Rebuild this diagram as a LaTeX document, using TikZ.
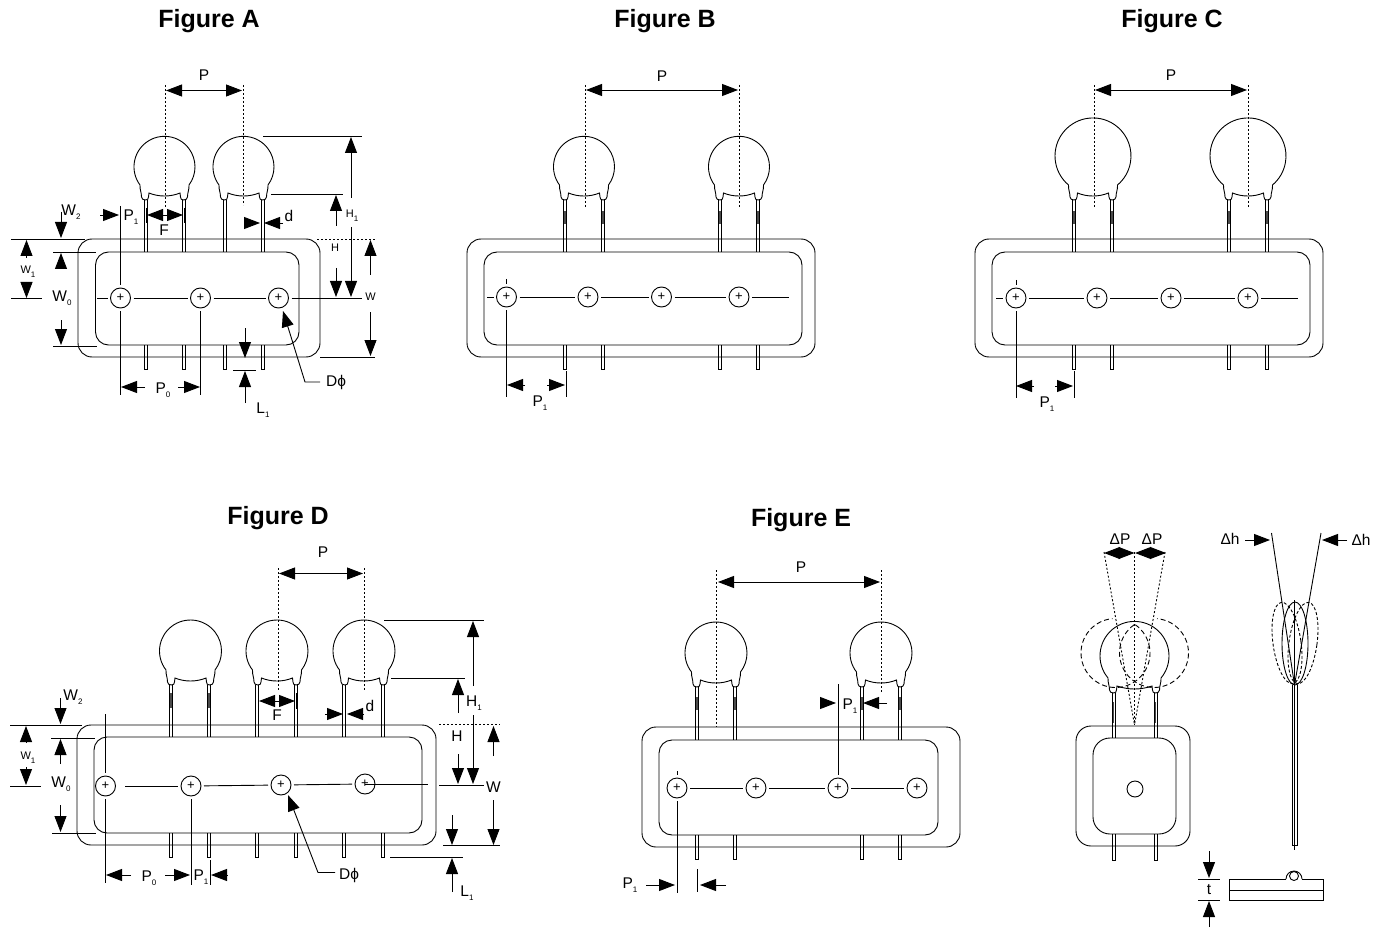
\documentclass[tikz,border=0pt]{standalone}
\usepackage{fontspec}
\setmainfont{Liberation Sans}
\usetikzlibrary{arrows.meta, positioning, calc}
\tikzstyle{part} = [line width=0.9pt, black]
\tikzstyle{arrow} = [line width=0.9pt, -{Triangle[length=16pt,width=12pt]}]
\tikzstyle{line} = [line width=0.9pt]
\tikzstyle{guide} = [line width=0.9pt, dash pattern=on 2pt off 2pt]
\tikzstyle{ghost} = [line width=0.9pt, dash pattern=on 5pt off 3pt]
\tikzstyle{leadtick} = [line width=1.2pt, black!70]
\tikzstyle{hole} = [circle, draw, line width=0.9pt, minimum size=20pt, inner sep=0pt, outer sep=3pt, font=\fontsize{13}{13}\selectfont]
\tikzstyle{title} = [font=\fontsize{25}{25}\selectfont\bfseries]
\tikzstyle{dimtext} = [font=\fontsize{15.5}{15.5}\selectfont, inner sep=0pt]
\tikzstyle{smalltext} = [font=\fontsize{11}{11}\selectfont, inner sep=0pt]
\newcommand{\sub}[1]{\raisebox{-4pt}{\fontsize{8}{8}\selectfont #1}}

% x, y of the lead feet, radius, half spacing of the leads
\newcommand{\disc}[4]{%
  \pgfmathsetmacro{\nx}{#4+5.5}
  \pgfmathsetmacro{\ox}{#4+4}
  \pgfmathsetmacro{\ix}{#4-3}
  \pgfmathsetmacro{\nk}{#4-3.5}
  \pgfmathsetmacro{\tang}{acos(\nx/#3)}
  \begin{scope}[shift={(#1,#2)}]
    \draw [part] (-\nx,-15) arc[start angle=180-\tang, end angle=360+\tang, radius=#3]
      .. controls (\nx+0.3,-10) and (\ox,-8) .. (\ox,-3)
      .. controls (\ox,-1) and (#4+2,0) .. (#4,0)
      .. controls (#4-2,0) and (\ix,-1) .. (\ix,-3)
      -- (\nk,-7)
      .. controls (6,-3) and (-6,-3) .. (-\nk,-7)
      -- (-\ix,-3)
      .. controls (-\ix,-1) and (-#4+2,0) .. (-#4,0)
      .. controls (-#4-2,0) and (-\ox,-1) .. (-\ox,-3)
      .. controls (-\ox,-8) and (-\nx-0.3,-10) .. (-\nx,-15);
  \end{scope}}
% x of the lead, top and bottom of the upper part
\newcommand{\lead}[3]{%
  \draw [part] (#1-1.5,#2) -- (#1-1.5,#3) (#1+1.5,#2) -- (#1+1.5,#3);}
% x of the lead, top and bottom of the stub
\newcommand{\stub}[3]{%
  \draw [part] (#1-1.5,#2) -- (#1-1.5,#3) -- (#1+1.5,#3) -- (#1+1.5,#2);}

\begin{document}
\begin{tikzpicture}[x=1pt,y=-1pt]
\useasboundingbox (0,0) rectangle (1382,928);

% Titoli
\node (title_a) [title] at (209,21.5) {Figure A};
\node (title_b) [title] at (665,21.5) {Figure B};
\node (title_c) [title] at (1172,21.5) {Figure C};
\node (title_d) [title] at (278,518.5) {Figure D};
\node (title_e) [title] at (801,520.5) {Figure E};

% Figure A
\draw [part, rounded corners=14pt] (78,239) rectangle (320,357);
\draw [part, rounded corners=13pt] (95.5,252) rectangle (299,345);
\disc{164.5}{200}{30.5}{19}
\disc{243.5}{200}{30.5}{19}
\foreach \lx in {145.5,183.5,224.5,262.5} {
  \lead{\lx}{200}{252}
  \stub{\lx}{345}{369}
}
\node (hole_a1) [hole] at (120.5,298) {+};
\node (hole_a2) [hole] at (200.5,298) {+};
\node (hole_a3) [hole] at (278.5,298) {+};
\coordinate (end_a0) at (97,298);
\coordinate (end_a4) at (362,298);
\coordinate (top_a1) at (120.5,206);
\coordinate (low_a1) at (120.5,395);
\coordinate (low_a2) at (200.5,395);
\draw [line] (end_a0) -- (hole_a1);
\draw [line] (hole_a1) -- (hole_a2);
\draw [line] (hole_a2) -- (hole_a3);
\draw [line] (hole_a3) -- (end_a4);
\draw [line] (top_a1) -- (hole_a1);
\draw [line] (hole_a1) -- (low_a1);
\draw [line] (hole_a2) -- (low_a2);
\draw [guide] (165,85) -- (165,207);
\draw [guide] (243,85) -- (243,205);
\draw [arrow] (190,90.5) -- (166,90.5);
\draw [arrow] (190,90.5) -- (242,90.5);
\node (p_a) [dimtext] at (204,75) {P};
\draw [arrow] (100,215) -- (119,215);
\node (p1_a) [dimtext] at (131,217) {P\sub{1}};
\draw [line] (146,208) -- (146,223);
\draw [line] (184,208) -- (184,223);
\draw [arrow] (165,215) -- (147,215);
\draw [arrow] (165,215) -- (183,215);
\node (f_a) [dimtext] at (164,230) {F};
\draw [arrow] (244,223) -- (260,223);
\draw [arrow] (283,223) -- (264,223);
\node (d_a) [dimtext] at (289,216) {d};
\node (w2_a) [dimtext] at (71,212) {W\sub{2}};
\draw [arrow] (61,212) -- (61,238);
\draw [line] (11,239) -- (85,239);
\draw [line] (53,252) -- (96,252);
\draw [arrow] (61,268) -- (61,253);
\node (w0_a) [dimtext] at (62,298) {W\sub{0}};
\draw [arrow] (61,320) -- (61,345);
\draw [line] (53,346) -- (97,346);
\draw [arrow] (26.5,258) -- (26.5,240);
\node (w1_a) [smalltext] at (28,272) {W\sub{1}};
\draw [arrow] (26.5,282) -- (26.5,298);
\draw [line] (11,298.5) -- (42,298.5);
\draw [line] (263,136) -- (362,136);
\draw [arrow] (351,198) -- (351,137);
\node (h1_a) [smalltext] at (352,216) {H\sub{1}};
\draw [arrow] (351,227) -- (351,297);
\draw [line] (271,194) -- (343,194);
\draw [arrow] (336,226) -- (336,195);
\draw [guide] (317,239) -- (376,239);
\node (h_a) [smalltext] at (335,248) {H};
\draw [arrow] (336,268) -- (336,297);
\draw [arrow] (370.5,275) -- (370.5,240);
\node (w_a) [smalltext] at (370.5,297) {W};
\draw [arrow] (370.5,312) -- (370.5,356);
\draw [line] (320,357) -- (375,357);
\draw [arrow] (245,328) -- (245,358);
\draw [line] (233,370.5) -- (256,370.5);
\draw [arrow] (245,403) -- (245,371);
\node (l1_a) [dimtext] at (263,410) {L\sub{1}};
\draw [arrow] (145,387) -- (121,387);
\draw [arrow] (178,387) -- (200,387);
\node (p0_a) [dimtext] at (163,390) {P\sub{0}};
\node (dphi_a) [dimtext] at (336,382) {Dϕ};
\draw [arrow] (320,382) -- (305,382) -- (283,311);

% Figure B
\draw [part, rounded corners=14pt] (467,239) rectangle (815,357);
\draw [part, rounded corners=13pt] (484,252) rectangle (802,345);
\disc{584}{200}{30.5}{19}
\disc{739}{200}{30.5}{19}
\foreach \lx in {565,603,720,758} {
  \lead{\lx}{200}{252}
  \stub{\lx}{345}{369}
  \draw [leadtick] (\lx,211) -- (\lx,224);
}
\node (hole_b1) [hole] at (506.5,297) {+};
\node (hole_b2) [hole] at (588,297) {+};
\node (hole_b3) [hole] at (661.5,297) {+};
\node (hole_b4) [hole] at (739,297) {+};
\coordinate (end_b0) at (487,297);
\coordinate (end_b5) at (789,297);
\coordinate (top_b1) at (506.5,279);
\coordinate (low_b1) at (506.5,397);
\draw [line] (end_b0) -- (hole_b1);
\draw [line] (hole_b1) -- (hole_b2);
\draw [line] (hole_b2) -- (hole_b3);
\draw [line] (hole_b3) -- (hole_b4);
\draw [line] (hole_b4) -- (end_b5);
\draw [line] (top_b1) -- (hole_b1);
\draw [line] (hole_b1) -- (low_b1);
\draw [line] (566,371) -- (566,397);
\draw [guide] (585,85) -- (585,207);
\draw [guide] (739,85) -- (739,207);
\draw [arrow] (662,90) -- (586,90);
\draw [arrow] (662,90) -- (738,90);
\node (p_b) [dimtext] at (662,76) {P};
\draw [arrow] (525,385) -- (507,385);
\draw [arrow] (547,385) -- (565,385);
\node (p1_b) [dimtext] at (540,403) {P\sub{1}};

% Figure C
\draw [part, rounded corners=14pt] (975,239) rectangle (1323,357);
\draw [part, rounded corners=13pt] (992,252) rectangle (1310,345);
\disc{1093}{200}{38}{19}
\disc{1248}{200}{38}{19}
\foreach \lx in {1074,1112,1229,1267} {
  \lead{\lx}{200}{252}
  \stub{\lx}{345}{369}
  \draw [leadtick] (\lx,211) -- (\lx,224);
}
\node (hole_c1) [hole] at (1016,298) {+};
\node (hole_c2) [hole] at (1097,298) {+};
\node (hole_c3) [hole] at (1171,298) {+};
\node (hole_c4) [hole] at (1248,298) {+};
\coordinate (end_c0) at (996,298);
\coordinate (end_c5) at (1298,298);
\coordinate (top_c1) at (1016,280);
\coordinate (low_c1) at (1016,398);
\draw [line] (end_c0) -- (hole_c1);
\draw [line] (hole_c1) -- (hole_c2);
\draw [line] (hole_c2) -- (hole_c3);
\draw [line] (hole_c3) -- (hole_c4);
\draw [line] (hole_c4) -- (end_c5);
\draw [line] (top_c1) -- (hole_c1);
\draw [line] (hole_c1) -- (low_c1);
\draw [line] (1074,371) -- (1074,398);
\draw [guide] (1094,85) -- (1094,207);
\draw [guide] (1248,85) -- (1248,207);
\draw [arrow] (1171,90) -- (1095,90);
\draw [arrow] (1171,90) -- (1247,90);
\node (p_c) [dimtext] at (1171,75) {P};
\draw [arrow] (1034,386) -- (1016,386);
\draw [arrow] (1055,386) -- (1073,386);
\node (p1_c) [dimtext] at (1047,404) {P\sub{1}};

% Figure D
\draw [part, rounded corners=14pt] (77,725) rectangle (436,845);
\draw [part, rounded corners=13pt] (94,737) rectangle (422,833);
\disc{190.5}{685}{31}{19}
\disc{277}{685}{31}{19}
\disc{364}{685}{31}{19}
\foreach \lx in {171,209,257,296,344,383} {
  \lead{\lx}{685}{737}
  \stub{\lx}{833}{857}
}
\draw [leadtick] (171,693) -- (171,708);
\draw [leadtick] (209,693) -- (209,708);
\node (hole_d1) [hole] at (105.5,786) {+};
\node (hole_d2) [hole] at (191,786) {+};
\node (hole_d3) [hole] at (281,785) {+};
\node (hole_d4) [hole] at (365,784) {+};
\coordinate (start_d) at (125,786);
\coordinate (end_d5) at (428,784);
\coordinate (top_d1) at (105.5,714);
\coordinate (low_d1) at (105.5,883);
\coordinate (low_d2) at (191,885);
\draw [line] (start_d) -- (hole_d2);
\draw [line] (hole_d2) -- (hole_d3);
\draw [line] (hole_d3) -- (hole_d4);
\draw [line] (hole_d4.center) -- (end_d5);
\draw [line] (top_d1) -- (hole_d1);
\draw [line] (hole_d1) -- (low_d1);
\draw [line] (hole_d2) -- (low_d2);
\draw [line] (210,860) -- (210,885);
\draw [guide] (278,568) -- (278,690);
\draw [guide] (364,568) -- (364,690);
\draw [arrow] (320,573.5) -- (279,573.5);
\draw [arrow] (320,573.5) -- (363,573.5);
\node (p_d) [dimtext] at (323,552) {P};
\draw [line] (258,693) -- (258,709);
\draw [line] (296,693) -- (296,709);
\draw [arrow] (277,701) -- (259,701);
\draw [arrow] (277,701) -- (295,701);
\node (f_d) [dimtext] at (277,715) {F};
\draw [arrow] (325,714) -- (343,714);
\draw [arrow] (363,714) -- (347,714);
\node (d_d) [dimtext] at (370,706) {d};
\node (w2_d) [dimtext] at (73,697) {W\sub{2}};
\draw [arrow] (60.5,698) -- (60.5,724);
\draw [line] (10,725) -- (82,725);
\draw [line] (51,738) -- (95,738);
\draw [arrow] (60.5,764) -- (60.5,739);
\node (w0_d) [dimtext] at (61,784) {W\sub{0}};
\draw [arrow] (60.5,805) -- (60.5,832);
\draw [line] (52,833) -- (96,833);
\draw [arrow] (26,742) -- (26,726);
\node (w1_d) [smalltext] at (28,758) {W\sub{1}};
\draw [arrow] (26,767) -- (26,785);
\draw [line] (10,786) -- (41,786);
\draw [line] (384,620) -- (484,620);
\draw [arrow] (473,686) -- (473,621);
\node (h1_d) [dimtext] at (474,703) {H\sub{1}};
\draw [arrow] (473,715) -- (473,784);
\draw [line] (391,678.5) -- (465,678.5);
\draw [arrow] (458,713) -- (458,679);
\draw [guide] (439,724) -- (500,724);
\node (h_d) [dimtext] at (457,736) {H};
\draw [arrow] (458,754) -- (458,784);
\draw [line] (439,785) -- (484,785);
\draw [arrow] (493.5,756) -- (493.5,726);
\node (w_d) [dimtext] at (493.5,787) {W};
\draw [arrow] (493.5,800) -- (493.5,845);
\draw [line] (443,845) -- (500,845);
\draw [arrow] (452,815) -- (452,845);
\draw [line] (390,857) -- (463,857);
\draw [arrow] (452,892) -- (452,858);
\node (l1_d) [dimtext] at (467,893) {L\sub{1}};
\draw [arrow] (131,875) -- (106,875);
\draw [arrow] (165,875) -- (190,875);
\node (p0_d) [dimtext] at (149,878) {P\sub{0}};
\node (p1_d) [dimtext] at (201,877) {P\sub{1}};
\draw [arrow] (227,875) -- (211,875);
\node (dphi_d) [dimtext] at (349,875) {Dϕ};
\draw [arrow] (335,872.5) -- (318,872.5) -- (288,795);

% Figure E
\draw [part, rounded corners=14pt] (642,727) rectangle (960,847);
\draw [part, rounded corners=13pt] (659,740) rectangle (938,835);
\disc{716}{687}{31}{19}
\disc{881}{687}{31}{19}
\foreach \lx in {697,735,862,900} {
  \lead{\lx}{687}{740}
  \stub{\lx}{835}{859}
  \draw [leadtick] (\lx,697) -- (\lx,710);
}
\node (hole_e1) [hole] at (677,788) {+};
\node (hole_e2) [hole] at (756,788) {+};
\node (hole_e3) [hole] at (838,788) {+};
\node (hole_e4) [hole] at (917,788) {+};
\coordinate (top_e1) at (677,771);
\coordinate (low_e1) at (677,893);
\coordinate (top_e3) at (838,684);
\draw [line] (hole_e1) -- (hole_e2);
\draw [line] (hole_e2) -- (hole_e3);
\draw [line] (hole_e3) -- (hole_e4);
\draw [line] (top_e1) -- (hole_e1);
\draw [line] (hole_e1) -- (low_e1);
\draw [line] (top_e3) -- (hole_e3);
\draw [line] (697.5,869) -- (697.5,892);
\draw [guide] (716.5,570) -- (716.5,727);
\draw [guide] (881,570) -- (881,693);
\draw [arrow] (800,582) -- (718,582);
\draw [arrow] (800,582) -- (880,582);
\node (p_e) [dimtext] at (801,567) {P};
\draw [arrow] (820,703) -- (836,703);
\draw [arrow] (887,703) -- (863,703);
\node (p1_e) [dimtext] at (850,706) {P\sub{1}};
\draw [arrow] (646,885) -- (675,885);
\draw [arrow] (726,885) -- (700,885);
\node (p1_e2) [dimtext] at (630,885) {P\sub{1}};

% Vista frontale
\draw [part, rounded corners=15pt] (1076,726) rectangle (1190,846);
\draw [part, rounded corners=17pt] (1093,738) rectangle (1176,834);
\node (hole_f) [circle, draw, line width=0.9pt, minimum size=16pt, inner sep=0pt] at (1135,789) {};
\disc{1134.5}{693}{34.5}{21}
\foreach \lx in {1113.5,1155.5} {
  \lead{\lx}{693}{738}
  \stub{\lx}{834}{860}
  \draw [leadtick] (\lx,702) -- (\lx,723);
}
\draw [ghost] (1115.5,653) ++(-55:34.5) arc[start angle=-55, end angle=265, radius=34.5];
\draw [ghost] (1154,653) ++(235:34.5) arc[start angle=235, end angle=-85, radius=34.5];
\coordinate (apex_f) at (1134.5,725);
\coordinate (top_f1) at (1104,552);
\coordinate (top_f2) at (1134.5,552);
\coordinate (top_f3) at (1165,552);
\draw [guide] (top_f1) -- (apex_f);
\draw [guide] (top_f2) -- (apex_f);
\draw [guide] (top_f3) -- (apex_f);
\draw [arrow] (1119,553) -- (1104,553);
\draw [arrow] (1119,553) -- (1134.5,553);
\draw [arrow] (1150,553) -- (1135,553);
\draw [arrow] (1150,553) -- (1166,553);
\node (dp_1) [dimtext] at (1120,539) {ΔP};
\node (dp_2) [dimtext] at (1152,539) {ΔP};

% Vista laterale
\draw [part] (1292.5,685) -- (1292.5,845) -- (1297,845) -- (1297,685);
\draw [line] (1294.8,600) -- (1294.8,850);
\draw [part] (1295,643.5) ellipse [x radius=13, y radius=41.5];
\draw [ghost, dash pattern=on 3pt off 2pt] (1287,643) ellipse [x radius=14, y radius=41, rotate=8];
\draw [ghost, dash pattern=on 3pt off 2pt] (1303,643) ellipse [x radius=14, y radius=41, rotate=-8];
\coordinate (apex_s) at (1294.5,685);
\coordinate (top_s1) at (1271.5,533);
\coordinate (top_s2) at (1321,533);
\draw [line] (top_s1) -- (apex_s);
\draw [line] (top_s2) -- (apex_s);
\draw [arrow] (1245,540) -- (1270,540);
\draw [arrow] (1347,540) -- (1322,540);
\node (dh_1) [dimtext] at (1230,539) {Δh};
\node (dh_2) [dimtext] at (1361,540) {Δh};

% Spessore
\draw [part] (1286,879) -- (1229,879) -- (1229,900) -- (1323,900) -- (1323,879) -- (1302,879);
\draw [part] (1229,890) -- (1323,890);
\draw [part] (1302,879) arc[start angle=0, end angle=-180, radius=8];
\node (bump_t) [circle, draw, line width=0.9pt, minimum size=9pt, inner sep=0pt] at (1294,876) {};
\draw [line] (1198,879) -- (1220,879);
\draw [line] (1198,900) -- (1220,900);
\draw [arrow] (1209,851) -- (1209,878);
\draw [arrow] (1209,927) -- (1209,901);
\node (t_s) [dimtext] at (1209,890) {t};

\end{tikzpicture}
\end{document}
